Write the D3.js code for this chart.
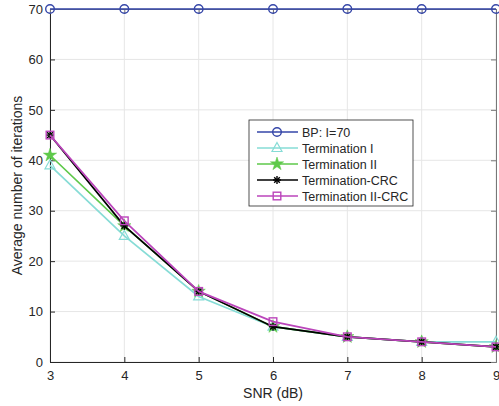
<!DOCTYPE html>
<html>
<head>
<meta charset="utf-8">
<script src="https://cdn.jsdelivr.net/npm/d3@7"></script>
<style>
  html, body { margin: 0; padding: 0; background: #fff; }
  svg { display: block; font-family: "Liberation Sans", Arial, sans-serif; }
</style>
</head>
<body>
<svg id="chart" width="499" height="406"></svg>
<script>
// SNR points (dB)
const snr = [3, 4, 5, 6, 7, 8, 9];
const yTicks = [0, 10, 20, 30, 40, 50, 60, 70];

// Average iteration counts per scheme
const bpI70 = [70, 70, 70, 70, 70, 70, 70];
const termI = [39, 25, 13, 7, 5, 4, 4];
const termII = [41, 27, 14, 7, 5, 4, 3];
const termCRC = [45, 27, 14, 7, 5, 4, 3];
const termIICRC = [45, 28, 14, 8, 5, 4, 3];

const seriesNames = ["BP: I=70", "Termination I", "Termination II", "Termination-CRC", "Termination II-CRC"];
const seriesValues = [bpI70, termI, termII, termCRC, termIICRC];
const seriesColors = ["#3546a8", "#86dcd6", "#5ec94a", "#000000", "#bb45bb"];
const seriesMarkers = ["circle", "triangle", "star", "asterisk", "square"];

const svg = d3.select("#chart");
const m = { left: 50, right: 3, top: 9, bottom: 44 };
const W = 499, H = 406;
const x = d3.scaleLinear().domain([3, 9]).range([m.left, W - m.right]);
const y = d3.scaleLinear().domain([0, 70]).range([H - m.bottom, m.top]);

// grid
const grid = svg.append("g");
grid.selectAll(".gx").data(snr).join("line")
  .attr("x1", d => x(d)).attr("x2", d => x(d))
  .attr("y1", y(0)).attr("y2", y(70))
  .attr("stroke", "#e6e6e6").attr("stroke-width", 1);
grid.selectAll(".gy").data(yTicks).join("line")
  .attr("x1", x(3)).attr("x2", x(9))
  .attr("y1", d => y(d)).attr("y2", d => y(d))
  .attr("stroke", "#e6e6e6").attr("stroke-width", 1);

// axes
const axisColor = "#262626";
const xAxis = svg.append("g").attr("transform", `translate(0,${y(0)})`)
  .call(d3.axisBottom(x).tickValues(snr).tickFormat(d3.format("d")).tickSizeInner(-5).tickSizeOuter(0).tickPadding(9));
const yAxis = svg.append("g").attr("transform", `translate(${x(3)},0)`)
  .call(d3.axisLeft(y).tickValues(yTicks).tickSizeInner(-5).tickSizeOuter(0).tickPadding(7));
const yAxisR = svg.append("g").attr("transform", `translate(${x(9)},0)`)
  .call(d3.axisRight(y).tickValues(yTicks).tickSizeInner(-5).tickSizeOuter(0).tickFormat(""));
const xAxisT = svg.append("g").attr("transform", `translate(0,${y(70)})`)
  .call(d3.axisTop(x).tickValues(snr).tickSizeInner(-5).tickSizeOuter(0).tickFormat(""));
[xAxis, yAxis].forEach(g => {
  g.selectAll("path, line").attr("stroke", axisColor);
  g.selectAll("text").attr("fill", "#262626").attr("font-size", 13)
    .attr("font-family", "Liberation Sans, Arial, sans-serif");
});
[yAxisR, xAxisT].forEach(g => g.selectAll("path, line").attr("stroke", "#777"));

svg.append("text")
  .attr("x", x(6)).attr("y", 398)
  .attr("text-anchor", "middle").attr("font-size", 14).attr("fill", "#262626")
  .text("SNR (dB)");
svg.append("text")
  .attr("transform", `translate(22,${(y(0) + y(70)) / 2}) rotate(-90)`)
  .attr("text-anchor", "middle").attr("font-size", 14).attr("fill", "#262626")
  .text("Average number of iterations");

// marker drawing
function drawMarker(g, type, color) {
  if (type === "circle") {
    g.append("circle").attr("r", 4.3).attr("fill", "none").attr("stroke", color).attr("stroke-width", 1.4);
  } else if (type === "triangle") {
    g.append("path").attr("d", "M0,-5.5L5,3.5L-5,3.5Z").attr("fill", "none").attr("stroke", color).attr("stroke-width", 1.2);
  } else if (type === "star") {
    g.append("path").attr("d", d3.symbol(d3.symbolStar, 55)()).attr("fill", color).attr("stroke", color).attr("stroke-width", 0.5);
  } else if (type === "asterisk") {
    const r = 4;
    [0, 45, 90, 135].forEach(a => {
      const rad = a * Math.PI / 180;
      g.append("line")
        .attr("x1", -r * Math.cos(rad)).attr("y1", -r * Math.sin(rad))
        .attr("x2", r * Math.cos(rad)).attr("y2", r * Math.sin(rad))
        .attr("stroke", color).attr("stroke-width", 1.4);
    });
  } else if (type === "square") {
    g.append("rect").attr("x", -3.8).attr("y", -3.8).attr("width", 7.6).attr("height", 7.6)
      .attr("fill", "none").attr("stroke", color).attr("stroke-width", 1.4);
  }
}

const line = d3.line().x((d, i) => x(snr[i])).y(d => y(d));
const plot = svg.append("g");
seriesValues.forEach((vals, si) => {
  const g = plot.append("g");
  g.append("path").datum(vals).attr("d", line)
    .attr("fill", "none").attr("stroke", seriesColors[si]).attr("stroke-width", 1.7);
  vals.forEach((v, i) => {
    const mg = g.append("g").attr("transform", `translate(${x(snr[i])},${y(v)})`);
    drawMarker(mg, seriesMarkers[si], seriesColors[si]);
  });
});

// legend
const lg = svg.append("g").attr("transform", "translate(249,120)");
lg.append("rect").attr("x", 0).attr("y", 0).attr("width", 164).attr("height", 86)
  .attr("fill", "#fff").attr("stroke", "#262626").attr("stroke-width", 0.8);
seriesNames.forEach((name, i) => {
  const yy = 12 + i * 16;
  lg.append("line").attr("x1", 8).attr("x2", 49).attr("y1", yy).attr("y2", yy)
    .attr("stroke", seriesColors[i]).attr("stroke-width", 1.7);
  const mg = lg.append("g").attr("transform", `translate(28,${yy})`);
  drawMarker(mg, seriesMarkers[i], seriesColors[i]);
  lg.append("text").attr("x", 53).attr("y", yy + 4.5)
    .attr("font-size", 12.5).attr("fill", "#262626").text(name);
});
</script>
</body>
</html>
